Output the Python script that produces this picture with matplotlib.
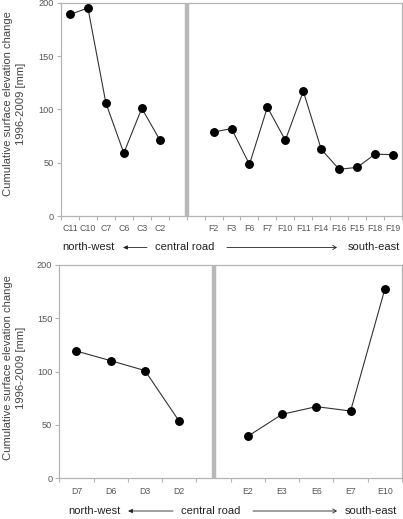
import matplotlib
matplotlib.use("Agg")
import matplotlib.pyplot as plt
import numpy as np

plt.rcParams['font.family'] = ['Liberation Sans', 'DejaVu Sans']

# ---- data ----
top_c_labels = ["C11", "C10", "C7", "C6", "C3", "C2"]
top_c_values = [189, 195, 106, 59, 101, 71.5]
top_f_labels = ["F2", "F3", "F6", "F7", "F10", "F11", "F14", "F16", "F15", "F18", "F19"]
top_f_values = [78.7, 82, 48.4, 102, 71, 117, 62.5, 43.8, 45.6, 58, 57.5]

bot_d_labels = ["D7", "D6", "D3", "D2"]
bot_d_values = [119.3, 110.3, 101, 53.4]
bot_e_labels = ["E2", "E3", "E6", "E7", "E10"]
bot_e_values = [39.4, 60, 67.2, 63.1, 177.5]

y_ticks = [0, 50, 100, 150, 200]
ylabel = "Cumulative surface elevation change\n1996-2009 [mm]"

W, H = 403, 519
fig = plt.figure(figsize=(W / 100, H / 100), dpi=100)

spine_col = "#b4b4b4"
tick_col = "#555555"
line_col = "#333333"
bar_col = "#b8b8b8"


def make_panel(rect, left_labels, left_values, right_labels, right_values,
               n_slots, gap_pos, right_start):
    ax = fig.add_axes(rect)
    xl = np.arange(len(left_labels))
    xr = np.arange(len(right_labels)) + right_start
    ax.plot(xl, left_values, color=line_col, lw=0.8, marker='o', ms=5.4,
            mfc='black', mec='black', zorder=3)
    ax.plot(xr, right_values, color=line_col, lw=0.8, marker='o', ms=5.4,
            mfc='black', mec='black', zorder=3)
    ax.axvline(gap_pos, color=bar_col, lw=3.2, zorder=2)
    ax.set_xlim(-0.5, n_slots - 0.5)
    ax.set_ylim(0, 200)
    ax.set_xticks(np.arange(n_slots + 1) - 0.5)
    ax.set_xticklabels([])
    ax.set_xticks(list(xl) + list(xr), minor=True)
    ax.set_xticklabels(list(left_labels) + list(right_labels), minor=True,
                       fontsize=6.3, color=tick_col)
    ax.tick_params(axis='x', which='minor', length=0, pad=6)
    ax.tick_params(axis='x', which='major', length=3, color=spine_col, width=0.8)
    ax.set_yticks(y_ticks)
    ax.set_yticklabels([str(v) for v in y_ticks], fontsize=6.6, color=tick_col)
    ax.tick_params(axis='y', length=3, color=spine_col, width=0.8, pad=2)
    for s in ax.spines.values():
        s.set_color(spine_col)
        s.set_linewidth(0.9)
    return ax


# top panel
ax1 = make_panel([61 / W, 1 - 216 / H, (402 - 61) / W, (216 - 2.7) / H],
                 top_c_labels, top_c_values, top_f_labels, top_f_values,
                 19, 6.5, 8)
# bottom panel
ax2 = make_panel([59.3 / W, 1 - 478.3 / H, (402 - 59.3) / W, (478.3 - 265) / H],
                 bot_d_labels, bot_d_values, bot_e_labels, bot_e_values,
                 10, 4, 5)

# y labels
for yc in [104, (265 + 478.3) / 2 - 4]:
    fig.text(14.5 / W, 1 - yc / H, ylabel, rotation=90, ha='center', va='center',
             fontsize=8.1, color="#444444", linespacing=1.25)

txt_col = "#222222"


def direction_row(y, nw_x, la0, la1, cr_x, ra0, ra1, se_x):
    yf = 1 - y / H
    fig.text(nw_x / W, yf, "north-west", ha='left', va='center', fontsize=8, color=txt_col)
    fig.text(cr_x / W, yf, "central road", ha='left', va='center', fontsize=8, color=txt_col)
    fig.text(se_x / W, yf, "south-east", ha='left', va='center', fontsize=8, color=txt_col)
    fig.patches.append(matplotlib.patches.FancyArrowPatch(
        (la1 / W, yf), (la0 / W, yf), transform=fig.transFigure,
        arrowstyle='-|>,head_length=2.5,head_width=1.2', color=txt_col, lw=0.6,
        shrinkA=0, shrinkB=0))
    fig.patches.append(matplotlib.patches.FancyArrowPatch(
        (ra0 / W, yf), (ra1 / W, yf), transform=fig.transFigure,
        arrowstyle='->,head_length=2.5,head_width=1.5', color=txt_col, lw=0.6,
        shrinkA=0, shrinkB=0))


direction_row(247.5, 62, 123, 147, 155, 227, 337, 348)
direction_row(511, 68, 128, 173, 181, 253, 337, 345)

fig.savefig("out.png", dpi=100)
